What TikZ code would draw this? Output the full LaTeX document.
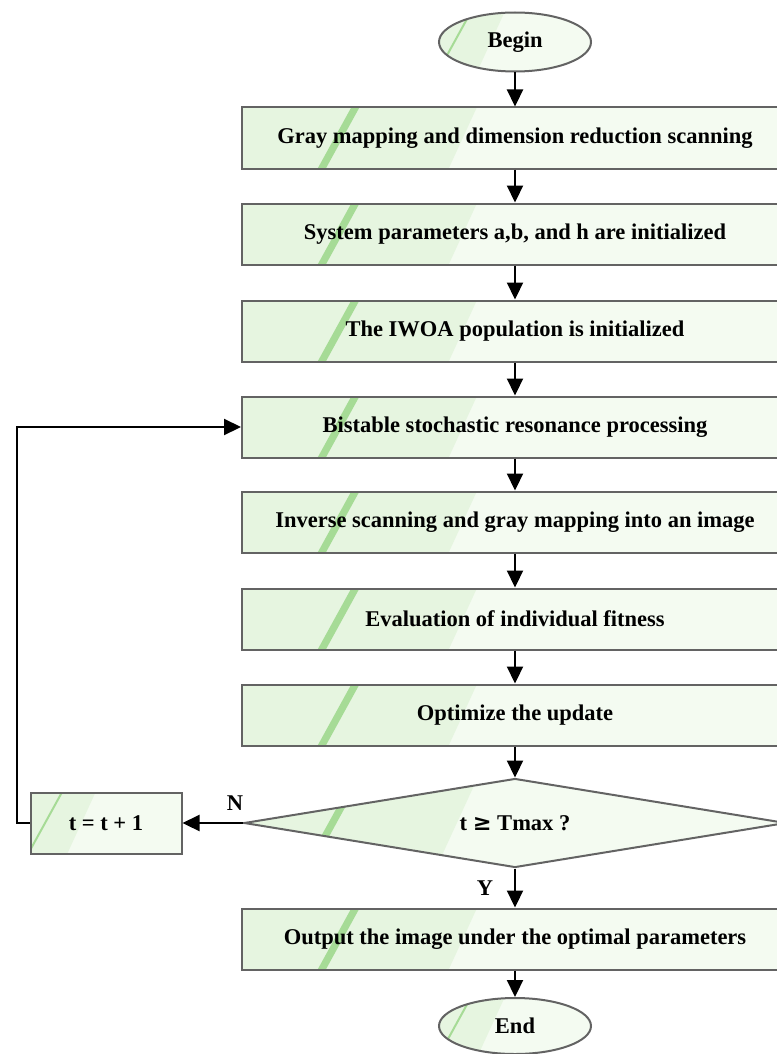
\documentclass[tikz,border=0pt]{standalone}
\usepackage{fontspec}
\setmainfont{Liberation Serif}
\newfontfamily\symbolfam{DejaVu Serif}
\usetikzlibrary{shapes.geometric,arrows.meta,calc}
\definecolor{glossbase}{HTML}{F4FBF1}
\definecolor{glossdark}{HTML}{E6F5E0}
\definecolor{glossline}{HTML}{A6DB96}
\definecolor{edgegray}{HTML}{636363}
\tikzset{
  gloss/.style={
    fill=glossbase, draw=edgegray, line width=2pt,
    path picture={
      \fill[glossdark] let \p1=(path picture bounding box.south west),
        \p2=(path picture bounding box.north east),
        \n1={\x2-\x1}, \n2={\y2-\y1} in
        (\x1,\y1) -- (\x1,\y2) -- ({\x1+0.43*\n1},\y2) -- ({\x1+0.43*\n1-0.46*\n2},\y1) -- cycle;
      \fill[glossline] let \p1=(path picture bounding box.south west),
        \p2=(path picture bounding box.north east),
        \n1={\x2-\x1}, \n2={\y2-\y1} in
        ({\x1+0.2*\n1},\y2) -- ({\x1+0.215*\n1},\y2) -- ({\x1+0.215*\n1-0.55*\n2},\y1) -- ({\x1+0.2*\n1-0.55*\n2},\y1) -- cycle;
    },
    font=\fontsize{22.5}{26}\selectfont\bfseries, text=black, inner sep=0pt
  },
  procbox/.style={gloss, rectangle, minimum width=546pt, minimum height=61pt},
  smallbox/.style={gloss, rectangle, minimum width=151pt, minimum height=61pt},
  term/.style={gloss, ellipse, minimum width=152pt, minimum height=59pt},
  decide/.style={gloss, diamond, aspect=6.1, minimum width=542pt, minimum height=89pt},
  conn/.style={line width=2.2pt, -{Triangle[length=17pt,width=16pt]}},
  lbl/.style={font=\fontsize{22.5}{26}\selectfont\bfseries, inner sep=0pt}
}
\begin{document}
\begin{tikzpicture}[x=1pt,y=-1pt]
\useasboundingbox (0,0) rectangle (776,1054);
\node[term] (begin) at (515,42) {Begin};
\node[procbox] (b1) at (515,138) {Gray mapping and dimension reduction scanning};
\node[procbox] (b2) at (515,234) {System parameters a,b, and h are initialized};
\node[procbox] (b3) at (515,331) {The IWOA population is initialized};
\node[procbox] (b4) at (515,427) {Bistable stochastic resonance processing};
\node[procbox] (b5) at (515,522) {Inverse scanning and gray mapping into an image};
\node[procbox] (b6) at (515,619) {Evaluation of individual fitness};
\node[procbox] (b7) at (515,715) {Optimize the update};
\node[decide] (dec) at (515,823) {t {\symbolfam ≥} Tmax ?};
\node[smallbox] (inc) at (106,823) {t = t + 1};
\node[procbox] (out) at (515,939) {Output the image under the optimal parameters};
\node[term, minimum height=56pt] (end) at (515,1026) {End};
\node[lbl] (nl) at (235,803) {N};
\node[lbl] (yl) at (485,888) {Y};
\coordinate (lc) at (17,823);
\coordinate (lt) at (17,427);
\draw[conn] (begin.south) -- (b1.north);
\draw[conn] (b1) -- (b2);
\draw[conn] (b2) -- (b3);
\draw[conn] (b3) -- (b4);
\draw[conn] (b4) -- (b5);
\draw[conn] (b5) -- (b6);
\draw[conn] (b6) -- (b7);
\draw[conn] (b7.south) -- (dec.north);
\draw[conn] (dec.south) -- (out.north);
\draw[conn] (out.south) -- (end.north);
\draw[conn] (dec.west) -- (inc.east);
\draw[conn] (inc.west) -- (lc) -- (lt) -- (b4.west);
\end{tikzpicture}
\end{document}
